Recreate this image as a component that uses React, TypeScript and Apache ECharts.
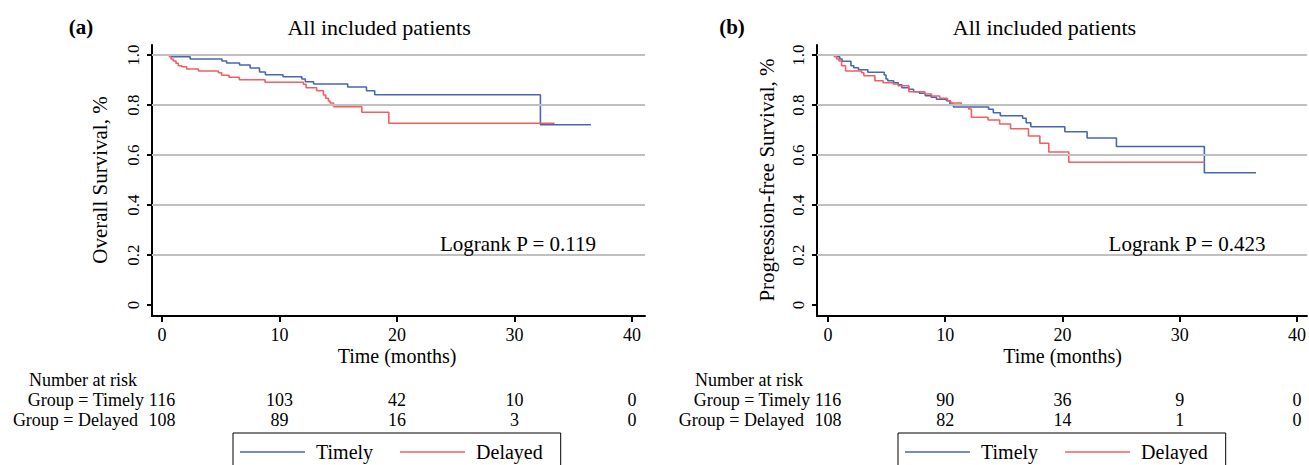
import React, { useEffect, useRef } from 'react';
import * as echarts from 'echarts';

const FONT = "'Liberation Serif', 'Times New Roman', serif";

const xTicks = [0, 10, 20, 30, 40];
const yTicks = [0, 0.2, 0.4, 0.6, 0.8, 1.0];
const gridLevels = [0.2, 0.4, 0.6, 0.8, 1.0];
const groups = ['Timely', 'Delayed'];
const panelTags = ['(a)', '(b)'];
const panelTitles = ['All included patients', 'All included patients'];
const yTitles = ['Overall Survival, %', 'Progression-free Survival, %'];
const logrankTexts = ['Logrank P = 0.119', 'Logrank P = 0.423'];

// Panel (a): overall survival
const osTimelyT = [0, 0.8, 2.4, 5.1, 5.5, 6.6, 7.5, 8.3, 8.8, 10.3, 11.9, 12.2, 12.9, 15.8, 17.4, 18.1, 32.2, 36.5];
const osTimelyS = [1, 0.993, 0.984, 0.976, 0.968, 0.96, 0.948, 0.932, 0.921, 0.913, 0.904, 0.893, 0.884, 0.872, 0.857, 0.841, 0.721, 0.721];
const osDelayedT = [0, 0.63, 0.77, 0.96, 1.19, 1.39, 1.68, 2.1, 3.1, 4.8, 5.08, 5.7, 6.58, 8.77, 12.03, 12.26, 13.16, 13.73, 13.93, 14.16, 14.3, 14.6, 17.0, 19.3, 33.4];
const osDelayedS = [1, 0.993, 0.984, 0.976, 0.967, 0.957, 0.953, 0.944, 0.936, 0.929, 0.919, 0.911, 0.901, 0.891, 0.883, 0.869, 0.857, 0.84, 0.827, 0.816, 0.808, 0.793, 0.771, 0.727, 0.727];

// Panel (b): progression-free survival
const pfsTimelyT = [0, 0.8, 1.0, 1.2, 1.96, 2.2, 2.6, 3.4, 4.8, 4.95, 5.1, 5.6, 6.0, 6.3, 6.9, 7.3, 7.8, 8.3, 8.8, 9.25, 10.1, 10.4, 10.7, 13.7, 14.1, 14.7, 16.6, 16.9, 17.3, 20.2, 22.1, 24.6, 32.1, 36.5];
const pfsTimelyS = [1, 0.993, 0.984, 0.975, 0.957, 0.949, 0.941, 0.931, 0.92, 0.904, 0.897, 0.889, 0.881, 0.869, 0.863, 0.853, 0.847, 0.837, 0.831, 0.823, 0.817, 0.804, 0.792, 0.783, 0.769, 0.757, 0.747, 0.729, 0.713, 0.693, 0.668, 0.634, 0.529, 0.529];
const pfsDelayedT = [0, 0.54, 0.74, 0.94, 1.16, 1.5, 2.87, 3.06, 4.0, 4.7, 5.56, 5.98, 6.9, 8.26, 8.83, 9.53, 10.19, 10.47, 11.38, 12.0, 12.23, 13.65, 14.64, 15.57, 17.1, 18.07, 18.83, 20.54, 32.14];
const pfsDelayedS = [1, 0.993, 0.984, 0.976, 0.957, 0.936, 0.929, 0.917, 0.897, 0.889, 0.884, 0.877, 0.853, 0.844, 0.836, 0.827, 0.816, 0.808, 0.8, 0.784, 0.751, 0.74, 0.724, 0.705, 0.676, 0.647, 0.612, 0.571, 0.571];

// Numbers at risk at xTicks
const riskOsTimely = [116, 103, 42, 10, 0];
const riskOsDelayed = [108, 89, 16, 3, 0];
const riskPfsTimely = [116, 90, 36, 9, 0];
const riskPfsDelayed = [108, 82, 14, 1, 0];

const BLUE = '#4666b8';
const RED = '#f25f5f';

const zip = (t: number[], s: number[]) => t.map((v, i) => [v, s[i]]);

export default function App() {
  const ref = useRef<HTMLDivElement>(null);
  useEffect(() => {
    if (!ref.current) return;
    const chart = echarts.init(ref.current, null, { renderer: 'svg' });

    const curves = [
      [zip(osTimelyT, osTimelyS), zip(osDelayedT, osDelayedS)],
      [zip(pfsTimelyT, pfsTimelyS), zip(pfsDelayedT, pfsDelayedS)],
    ];
    const risks = [
      [riskOsTimely, riskOsDelayed],
      [riskPfsTimely, riskPfsDelayed],
    ];

    const xAxis = [0, 1].map((i) => ({
      gridIndex: i,
      type: 'value',
      min: i === 0 ? -0.851 : -0.936,
      max: i === 0 ? 41.1 : 40.85,
      axisLine: { show: true, onZero: false, lineStyle: { color: '#000', width: 2 } },
      axisTick: { show: true, customValues: xTicks, length: 6, lineStyle: { color: '#000', width: 2 } },
      axisLabel: { show: true, customValues: xTicks, margin: 10, fontSize: 18, fontFamily: FONT, color: '#000' },
      splitLine: { show: false },
    }));
    const yAxis = [0, 1].map((i) => ({
      gridIndex: i,
      type: 'value',
      min: -0.044,
      max: 1.04,
      axisLine: { show: true, onZero: false, lineStyle: { color: '#000', width: 2 } },
      axisTick: { show: true, customValues: yTicks, length: 5, lineStyle: { color: '#000', width: 2 } },
      axisLabel: {
        show: true,
        customValues: yTicks,
        rotate: 90,
        margin: 10,
        fontSize: 17,
        fontFamily: FONT,
        color: '#000',
        formatter: (v: number) => (v === 0 ? '0' : v.toFixed(1)),
      },
      splitLine: { show: false },
    }));

    const series: any[] = [];
    [0, 1].forEach((i) => {
      series.push({
        type: 'line',
        xAxisIndex: i,
        yAxisIndex: i,
        data: [[0, 1]],
        symbol: 'none',
        lineStyle: { opacity: 0 },
        silent: true,
        z: 1,
        markLine: {
          silent: true,
          symbol: ['none', 'none'],
          label: { show: false },
          lineStyle: { color: '#c0c0c0', width: 2, type: 'solid' },
          data: gridLevels.map((v) => ({ yAxis: v })),
        },
      });
      groups.forEach((g, k) => {
        series.push({
          name: g,
          type: 'line',
          xAxisIndex: i,
          yAxisIndex: i,
          step: 'end',
          symbol: 'none',
          showSymbol: false,
          data: curves[i][k],
          lineStyle: { color: k === 0 ? BLUE : RED, width: 1.6 },
          itemStyle: { color: k === 0 ? BLUE : RED },
          z: 3,
        });
      });
    });

    const legend = [233, 898].map((left) => ({
      left,
      top: 433,
      orient: 'horizontal',
      data: groups.map((g) => ({ name: g, icon: 'rect' })),
      itemWidth: 65,
      itemHeight: 1.6,
      itemGap: 27,
      selectedMode: false,
      borderColor: '#000',
      borderWidth: 1,
      borderRadius: 0,
      padding: [9, 18, 14, 7],
      textStyle: { fontSize: 20, fontFamily: FONT, color: '#000', padding: [0, 0, 0, 6] },
    }));

    chart.setOption({
      animation: false,
      backgroundColor: '#fff',
      grid: [
        { left: 152, top: 45, width: 493, height: 271 },
        { left: 817, top: 45, width: 491, height: 271 },
      ],
      xAxis,
      yAxis,
      legend,
      series,
    });

    const px = (i: number, v: number) => chart.convertToPixel({ xAxisIndex: i } as any, v) as number;
    const txt = (text: string, x: number, y: number, size: number, align = 'center', extra: any = {}) => ({
      type: 'text',
      x,
      y,
      z: 100,
      silent: true,
      style: {
        text,
        fontSize: size,
        fontFamily: FONT,
        fill: '#000',
        textAlign: align,
        textVerticalAlign: 'middle',
        align,
        verticalAlign: 'middle',
        ...extra,
      },
    });

    const graphic: any[] = [];
    [0, 1].forEach((i) => {
      const off = i === 0 ? 0 : 665;
      const mid = (px(i, 0) + px(i, 40)) / 2;
      graphic.push(txt(panelTags[i], 81 + off - (i === 1 ? 14 : 0), 27, 21, 'center', { fontWeight: 'bold' }));
      graphic.push(txt(panelTitles[i], mid - 18, 27, 22));
      graphic.push({
        ...txt(yTitles[i], i === 0 ? 100 : 767, 180, 21),
        rotation: Math.PI / 2,
      });
      graphic.push(txt('Time (months)', mid, 356, 20));
      graphic.push(txt(logrankTexts[i], i === 0 ? 518 : 1187, 244, 21));
      const x0 = px(i, 0);
      graphic.push(txt('Number at risk', x0 - 79, 380, 18));
      graphic.push(txt('Group = Timely', x0 - 18, 400, 18, 'right'));
      graphic.push(txt('Group = Delayed', x0 - 24, 420, 18, 'right'));
      xTicks.forEach((t, j) => {
        graphic.push(txt(String(risks[i][0][j]), px(i, t), 400, 18));
        graphic.push(txt(String(risks[i][1][j]), px(i, t), 420, 18));
      });
    });
    chart.setOption({ graphic });

    return () => chart.dispose();
  }, []);

  return <div ref={ref} style={{ position: 'absolute', left: 0, top: 0, width: 1309, height: 465 }} />;
}
